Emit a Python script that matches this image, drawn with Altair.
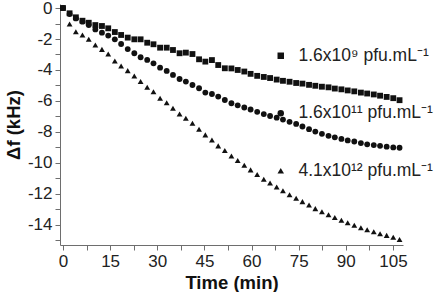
import altair as alt
import pandas as pd

# Sampling times (min)
times = [0, 2.1, 4.1, 6.2, 8.2, 10.3, 12.4, 14.4, 16.5, 18.5, 20.6, 22.7, 24.7,
         26.8, 28.8, 30.9, 33.0, 35.0, 37.1, 39.1, 41.2, 43.3, 45.3, 47.4, 49.4,
         51.5, 53.6, 55.6, 57.7, 59.7, 61.8, 63.9, 65.9, 68.0, 70.0, 72.1, 74.2,
         76.2, 78.3, 80.3, 82.4, 84.5, 86.5, 88.6, 90.6, 92.7, 94.8, 96.8, 98.9,
         100.9, 103.0, 105.1, 107.1]

# Frequency shift (kHz), 1.6x10^9 pfu/mL
shift_low = [0, -0.34, -0.60, -0.82, -0.95, -1.10, -1.16, -1.31, -1.55, -1.74,
             -1.91, -2.02, -2.02, -2.24, -2.34, -2.56, -2.56, -2.71, -2.92, -2.88,
             -2.97, -3.31, -3.46, -3.36, -3.68, -3.89, -3.90, -4.00, -4.10, -4.25,
             -4.38, -4.45, -4.52, -4.62, -4.70, -4.76, -4.84, -4.88, -4.96, -5.02,
             -5.08, -5.12, -5.20, -5.25, -5.32, -5.38, -5.46, -5.52, -5.58, -5.66,
             -5.74, -5.82, -5.95]

# Frequency shift (kHz), 1.6x10^11 pfu/mL
shift_mid = [0, -0.39, -0.67, -0.88, -1.10, -1.38, -1.59, -1.78, -2.02, -2.32,
             -2.65, -2.92, -3.18, -3.35, -3.57, -3.85, -4.06, -4.32, -4.58, -4.75,
             -4.97, -5.18, -5.46, -5.55, -5.72, -5.94, -6.15, -6.28, -6.42, -6.55,
             -6.70, -6.85, -6.97, -7.08, -7.20, -7.35, -7.48, -7.65, -7.82, -7.98,
             -8.12, -8.25, -8.35, -8.45, -8.55, -8.62, -8.72, -8.80, -8.85, -8.90,
             -8.95, -9.00, -9.02]

# Frequency shift (kHz), 4.1x10^12 pfu/mL (first reading at 2.1 min)
shift_high = [-1.03, -1.53, -1.74, -2.02, -2.39, -2.67, -2.97, -3.42, -3.74,
              -4.04, -4.39, -4.75, -5.12, -5.40, -5.83, -6.11, -6.47, -6.84, -7.12,
              -7.44, -7.83, -8.19, -8.52, -8.90, -9.20, -9.55, -9.85, -10.15,
              -10.45, -10.75, -11.05, -11.30, -11.55, -11.80, -12.05, -12.28,
              -12.50, -12.72, -12.95, -13.15, -13.35, -13.52, -13.70, -13.86,
              -14.02, -14.18, -14.32, -14.45, -14.57, -14.68, -14.80, -14.95]

labels = ["1.6x10⁹ pfu.mL⁻¹", "1.6x10¹¹ pfu.mL⁻¹", "4.1x10¹² pfu.mL⁻¹"]
shapes = ["square", "circle", "triangle-up"]

rows = []
for t, v in zip(times, shift_low):
    rows.append({"t": t, "df": v, "series": labels[0]})
for t, v in zip(times, shift_mid):
    rows.append({"t": t, "df": v, "series": labels[1]})
for t, v in zip(times[1:], shift_high):
    rows.append({"t": t, "df": v, "series": labels[2]})
data = pd.DataFrame(rows)

FONT = "Liberation Sans"
AXIS_COLOR = "#6e6e6e"

x_ticks = [0, 7.5, 15, 22.5, 30, 37.5, 45, 52.5, 60, 67.5, 75, 82.5, 90, 97.5, 105]
y_ticks = list(range(-15, 1))

chart = alt.Chart(data).mark_point(
    filled=True, opacity=1, strokeWidth=0, color="#111111", size=34
).encode(
    x=alt.X(
        "t:Q",
        scale=alt.Scale(domain=[-0.95, 108.2], nice=False, zero=False),
        axis=alt.Axis(
            title="Time (min)",
            values=x_ticks,
            labelExpr="datum.value % 15 == 0 ? '' + datum.value : ''",
            labelOverlap=False,
            grid=False,
            tickSize=5,
            labelPadding=3,
            titlePadding=4,
        ),
    ),
    y=alt.Y(
        "df:Q",
        scale=alt.Scale(domain=[-15.3, 0.26], nice=False, zero=False),
        axis=alt.Axis(
            title="Δf (kHz)",
            values=y_ticks,
            labelExpr="datum.value % 2 == 0 ? '' + datum.value : ''",
            labelOverlap=False,
            grid=False,
            tickSize=5,
            labelPadding=3,
            titlePadding=4,
        ),
    ),
    shape=alt.Shape(
        "series:N",
        scale=alt.Scale(domain=labels, range=shapes),
        legend=alt.Legend(
            title=None,
            orient="none",
            legendX=212,
            legendY=43,
            rowPadding=38.5,
            symbolSize=42,
            symbolFillColor="#111111",
            symbolStrokeWidth=0,
            labelOffset=9,
            labelFontSize=17.5,
            labelFont=FONT,
            labelColor="#222222",
            labelLimit=300,
            padding=0,
        ),
    ),
).properties(
    width=343,
    height=241,
    padding={"left": 60, "top": 4, "right": 37, "bottom": 47},
    autosize="none",
).configure_view(
    stroke=None
).configure_axis(
    domainColor=AXIS_COLOR,
    tickColor=AXIS_COLOR,
    domainWidth=1,
    tickWidth=1,
    labelFont=FONT,
    labelFontSize=17,
    labelColor="#222222",
    titleFont=FONT,
    titleFontSize=18.5,
    titleFontWeight="bold",
    titleColor="#111111",
)

chart.save("out.html", embed_options={"renderer": "svg", "actions": False})
